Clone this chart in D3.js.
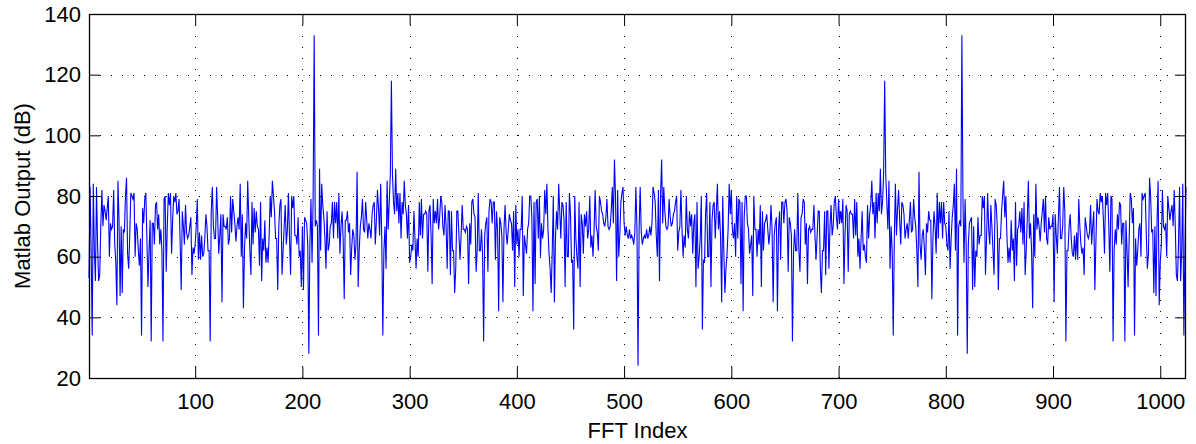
<!DOCTYPE html>
<html>
<head>
    <meta charset="utf-8">
    <title>FFT Output</title>
    <script src="https://d3js.org/d3.v7.min.js"></script>
    <style>
        body { margin: 0; background: #fff; }
        svg text { font-family: "Liberation Sans", Arial, Helvetica, sans-serif; fill: #000; }
    </style>
</head>
<body>
    <div id="chart"></div>

    <script>
        // FFT bins 1..513
        const dbFirstHalf = [
            53, 83, 62, 34, 84, 62, 52, 83, 64, 52, 54, 70, 82, 70, 77, 75, 72, 76, 80, 60,
            71, 69, 70, 82, 64, 58, 44, 85, 72, 47, 70, 48, 69, 68, 80, 86, 61, 56, 67, 81,
            80, 79, 81, 60, 71, 69, 62, 57, 66, 34, 76, 71, 79, 81, 66, 50, 62, 72, 32, 71,
            71, 64, 77, 78, 69, 74, 64,
            69, 62, 32, 79, 80, 55, 70, 81, 77, 81, 61, 72, 80, 78, 81, 74, 75, 79, 65, 49,
            75, 70, 64, 77, 68, 66, 67, 70, 73, 54, 63, 61, 64, 70, 79, 59, 68, 59, 67, 60,
            61, 66, 74, 70, 62, 62, 32, 75, 83, 70, 66, 66, 83, 73, 61, 67, 74, 45, 74, 70,
            70, 69, 73, 64, 66,
            80, 68, 79, 75, 71, 65, 70, 73, 69, 84, 60, 74, 43, 62, 71, 66, 85, 73, 62, 54,
            78, 64, 76, 68, 75, 70, 69, 57, 78, 52, 66, 62, 72, 58, 63, 58, 67, 80, 73, 85,
            80, 75, 66, 66, 49, 70, 77, 79, 54, 62, 70, 77, 64, 69, 81, 66, 54, 80, 76, 80,
            67, 67, 64, 73, 60,
            62, 50, 70, 49, 73, 72, 71, 64, 28, 64, 79, 58, 79, 133, 70, 72, 70, 34, 89, 62,
            84, 77, 73, 66, 56, 75, 62, 64, 70, 71, 78, 66, 78, 71, 78, 66, 81, 61, 70, 75,
            66, 46, 72, 72, 75, 68, 71, 54, 63, 69, 67, 59, 64, 88, 50, 62, 70, 73, 79, 69,
            68, 78, 72, 66, 71, 69,
            66, 74, 77, 78, 64, 72, 82, 76, 67, 84, 66, 34, 62, 70, 56, 85, 69, 78, 87, 118,
            87, 78, 74, 89, 75, 81, 71, 81, 66, 78, 74, 85, 77, 74, 66, 77, 58, 60, 64, 62,
            75, 66, 56, 66, 60, 78, 67, 79, 66, 74, 74, 75, 74, 55, 75, 77, 67, 51, 79, 71,
            75, 71, 79, 69,
            73, 80, 78, 70, 67, 77, 70, 56, 75, 75, 54, 75, 62, 62, 48, 56, 75, 75, 67, 59,
            67, 77, 69, 69, 68, 70, 69, 51, 71, 64, 78, 79, 74, 73, 55, 62, 81, 62, 62, 69,
            61, 32, 67, 71, 73, 55, 75, 79, 78, 71, 78, 78, 59, 75, 69, 42, 73, 71, 67, 45,
            69, 77, 68, 64, 69, 74,
            72, 71, 62, 75, 50, 77, 64, 69, 60, 69, 69, 80, 47, 67, 64, 61, 69, 71, 80, 80,
            73, 42, 78, 51, 78, 79, 66, 80, 60, 71, 66, 69, 82, 74, 84, 69, 61, 56, 48, 62,
            80, 45, 66, 75, 69, 84, 75, 66, 78, 77, 72, 50, 78, 60, 60, 81, 74, 58, 59, 36,
            80, 66, 60, 56, 78,
            50, 74, 71, 61, 74, 70, 75, 66, 69, 80, 63, 67, 60, 69, 82, 70, 68, 62, 80, 78,
            75, 74, 71, 70, 73, 79, 70, 69, 70, 75, 83, 71, 92, 80, 52, 82, 60, 67, 78, 81,
            83, 71, 67, 70, 67, 66, 69, 66, 67, 66, 64, 68, 83, 69, 24
        ];

        // FFT bins 514..1024 (mirror image of the first half)
        const dbSecondHalf = [
            69, 83, 68, 64, 66, 67, 66, 69, 66, 67, 70, 67, 71, 83, 81, 78, 67, 60, 82, 52,
            80, 92, 71, 83, 75, 70, 69, 70, 79, 73, 70, 71, 74, 75, 78, 80, 62, 68, 70, 82,
            69, 60, 67, 63, 80, 69, 66, 75, 70, 74, 61, 71, 74, 50,
            78, 56, 60, 66, 80, 36, 59, 58, 74, 81, 60, 60, 78, 50, 72, 77, 78, 66, 75, 84,
            69, 75, 66, 45, 80, 62, 48, 56, 61, 69, 84, 74, 82, 69, 66, 71, 60, 80, 66, 79,
            78, 51, 78, 42, 73, 80, 80, 71, 69, 61, 64, 67, 47, 80, 69, 69, 60, 69, 64, 77,
            50, 75, 62, 71, 72,
            74, 69, 64, 68, 77, 69, 45, 67, 71, 73, 42, 69, 75, 59, 78, 78, 71, 78, 79, 75,
            55, 73, 71, 67, 32, 61, 69, 62, 62, 81, 62, 55, 73, 74, 79, 78, 64, 71, 51, 69,
            70, 68, 69, 69, 77, 67, 59, 67, 75, 75, 56, 48, 62, 62, 75, 54, 75, 75, 56, 70,
            77, 67, 70, 78, 80, 73,
            69, 79, 71, 75, 71, 79, 51, 67, 77, 75, 55, 74, 75, 74, 74, 66, 79, 67, 78, 60,
            66, 56, 66, 75, 62, 64, 60, 58, 77, 66, 74, 77, 85, 74, 78, 66, 81, 71, 81, 75,
            89, 74, 78, 87, 118, 87, 78, 69, 85, 56, 70, 62, 34, 66, 84, 67, 76, 82, 72, 64,
            78, 77, 74, 66,
            69, 71, 66, 72, 78, 68, 69, 79, 73, 70, 62, 50, 88, 64, 59, 67, 69, 63, 54, 71,
            68, 75, 72, 72, 46, 66, 75, 70, 61, 81, 66, 78, 71, 78, 66, 78, 71, 70, 64, 62,
            75, 56, 66, 73, 77, 84, 62, 89, 34, 70, 72, 70, 133, 79, 58, 79, 64, 28, 64, 71,
            72, 73, 49, 70, 50, 62,
            60, 73, 64, 67, 67, 80, 76, 80, 54, 66, 81, 69, 64, 77, 70, 62, 54, 79, 77, 70,
            49, 66, 66, 75, 80, 85, 73, 80, 67, 58, 63, 58, 72, 62, 66, 52, 78, 57, 69, 70,
            75, 68, 76, 64, 78, 54, 62, 73, 85, 66, 71, 62, 43, 74, 60, 84, 69, 73, 70, 65,
            71, 75, 79, 68, 80,
            66, 64, 73, 69, 70, 70, 74, 45, 74, 67, 61, 73, 83, 66, 66, 70, 83, 75, 32, 62,
            62, 70, 74, 66, 61, 60, 67, 59, 68, 59, 79, 70, 64, 61, 63, 54, 73, 70, 67, 66,
            68, 77, 64, 70, 75, 49, 65, 79, 75, 74, 81, 78, 80, 72, 61, 81, 77, 81, 70, 55,
            80, 79, 32, 62, 69,
            64, 74, 69, 78, 77, 64, 71, 71, 32, 72, 62, 50, 66, 81, 79, 71, 76, 34, 66, 57,
            62, 69, 71, 60, 81, 79, 80, 81, 67, 56, 61, 86, 80, 68, 69, 48, 70, 47, 72, 85,
            44, 58, 64, 82, 70, 69, 71, 60, 80, 76, 72, 75, 77, 70, 82, 70, 54, 52, 64, 83,
            52, 62, 84, 34, 62, 83
        ];

        const xTicks = [100, 200, 300, 400, 500, 600, 700, 800, 900, 1000];
        const yTicks = [20, 40, 60, 80, 100, 120, 140];
        const xLabel = "FFT Index";
        const yLabel = "Matlab Output (dB)";

        const dbValues = dbFirstHalf.concat(dbSecondHalf);

        const width = 1196;
        const height = 444;
        const margin = { left: 89, right: 10, top: 14, bottom: 66 };
        const fontSize = 22;

        const x = d3.scaleLinear()
            .domain([1, dbValues.length])
            .range([margin.left, width - margin.right]);

        const y = d3.scaleLinear()
            .domain([20, 140])
            .range([height - margin.bottom, margin.top]);

        const svg = d3.select("#chart")
            .append("svg")
            .attr("width", width)
            .attr("height", height);

        const x0 = margin.left, x1 = width - margin.right;
        const y0 = margin.top, y1 = height - margin.bottom;

        // dotted grid
        const grid = svg.append("g")
            .attr("stroke", "#000")
            .attr("stroke-width", 1)
            .attr("stroke-dasharray", "1,10");

        grid.selectAll("line.vx")
            .data(xTicks)
            .join("line")
            .attr("class", "vx")
            .attr("x1", d => Math.round(x(d)) + 0.5)
            .attr("x2", d => Math.round(x(d)) + 0.5)
            .attr("y1", y1)
            .attr("y2", y0);

        grid.selectAll("line.hy")
            .data(yTicks.slice(1, -1))
            .join("line")
            .attr("class", "hy")
            .attr("y1", d => Math.round(y(d)) + 0.5)
            .attr("y2", d => Math.round(y(d)) + 0.5)
            .attr("x1", x0)
            .attr("x2", x1);

        // data line
        const line = d3.line()
            .x((d, i) => x(i + 1))
            .y(d => y(d));

        svg.append("path")
            .datum(dbValues)
            .attr("fill", "none")
            .attr("stroke", "#0000ff")
            .attr("stroke-width", 1.1)
            .attr("stroke-linejoin", "miter")
            .attr("d", line);

        // axes with inward ticks (matlab box)
        const styleAxis = g => {
            g.select(".domain").remove();
            g.selectAll(".tick line").attr("stroke", "#000");
            g.selectAll(".tick text")
                .attr("font-size", fontSize)
                .attr("fill", "#000");
        };

        const plain = d3.format("d");

        svg.append("g")
            .attr("transform", `translate(0,${y1})`)
            .call(d3.axisBottom(x).tickValues(xTicks).tickFormat(plain)
                .tickSize(-11).tickSizeOuter(0).tickPadding(15))
            .call(styleAxis);

        svg.append("g")
            .attr("transform", `translate(0,${y0})`)
            .call(d3.axisTop(x).tickValues(xTicks).tickSize(-11).tickSizeOuter(0).tickFormat(""))
            .call(styleAxis);

        svg.append("g")
            .attr("transform", `translate(${x0},0)`)
            .call(d3.axisLeft(y).tickValues(yTicks).tickFormat(plain)
                .tickSize(-11).tickSizeOuter(0).tickPadding(8))
            .call(styleAxis);

        svg.append("g")
            .attr("transform", `translate(${x1},0)`)
            .call(d3.axisRight(y).tickValues(yTicks).tickSize(-11).tickSizeOuter(0).tickFormat(""))
            .call(styleAxis);

        // box
        svg.append("rect")
            .attr("x", x0 + 0.5)
            .attr("y", y0 + 0.5)
            .attr("width", x1 - x0 - 1)
            .attr("height", y1 - y0)
            .attr("fill", "none")
            .attr("stroke", "#000")
            .attr("stroke-width", 1.3);

        // axis labels
        svg.append("text")
            .attr("x", (x0 + x1) / 2)
            .attr("y", 438)
            .attr("text-anchor", "middle")
            .attr("font-size", fontSize)
            .text(xLabel);

        svg.append("text")
            .attr("transform", `translate(30,${(y0 + y1) / 2}) rotate(-90)`)
            .attr("text-anchor", "middle")
            .attr("font-size", fontSize)
            .text(yLabel);
    </script>
</body>
</html>
